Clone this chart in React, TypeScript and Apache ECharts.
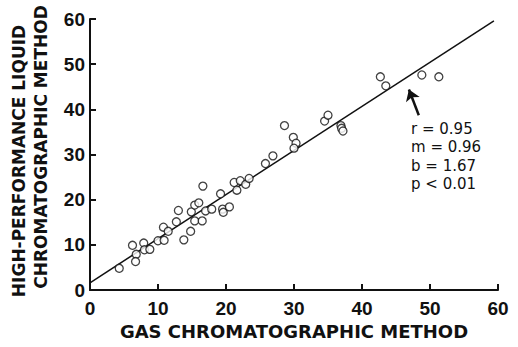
import React, { useEffect, useRef } from "react";
import * as echarts from "echarts";

const gasX = [4.3, 6.25, 6.8, 6.7, 7.9, 8.0, 8.8, 10.0, 10.9, 10.8, 11.5, 12.7, 13.0, 13.8, 14.8, 14.9, 15.4, 15.4, 16.0, 16.5, 16.6, 17.0, 17.9, 19.2, 19.5, 19.6, 20.5, 21.2, 21.6, 22.1, 22.9, 23.4, 25.8, 26.9, 28.6, 29.9, 30.3, 30.0, 34.5, 35.0, 36.9, 37.0, 37.2, 42.7, 43.5, 48.8, 51.3];
const hplcY = [4.8, 9.9, 7.9, 6.3, 10.4, 8.9, 9.0, 10.9, 11.0, 13.9, 13.0, 15.1, 17.6, 11.1, 13.0, 17.3, 15.3, 18.8, 19.3, 15.3, 23.0, 17.5, 17.9, 21.3, 17.9, 17.2, 18.4, 23.8, 22.1, 24.2, 23.4, 24.7, 28.0, 29.7, 36.4, 33.8, 32.5, 31.4, 37.4, 38.7, 36.4, 35.8, 35.2, 47.2, 45.2, 47.6, 47.2];
const fitLineX = [0, 59.4];
const fitLineY = [1.6, 59.6];
const arrowX = [48.35, 46.9];
const arrowY = [38.7, 44.4];
const statLines = ["r = 0.95", "m = 0.96", "b = 1.67", "p < 0.01"];
const xTitle = "GAS CHROMATOGRAPHIC METHOD";
const yTitle1 = "HIGH-PERFORMANCE LIQUID";
const yTitle2 = "CHROMATOGRAPHIC METHOD";

const FONT = "'Liberation Sans', Arial, Helvetica, sans-serif";
const WIDE = "'DejaVu Sans', Verdana, sans-serif";

export default function App() {
  const ref = useRef<HTMLDivElement>(null);
  useEffect(() => {
    if (!ref.current) return;
    const chart = echarts.init(ref.current, undefined, { renderer: "svg" });
    const axisCommon = {
      type: "value" as const,
      min: 0,
      max: 60,
      interval: 10,
      splitLine: { show: false },
      axisLine: { show: true, lineStyle: { color: "#111", width: 2 } },
      axisTick: { show: true, inside: true, length: 6, lineStyle: { color: "#111", width: 2 } },
      axisLabel: { color: "#111", fontFamily: FONT, fontSize: 19, fontWeight: "bold" as const },
    };
    const titleStyle = {
      fontFamily: WIDE,
      fontSize: 17,
      fontWeight: "bold",
      fill: "#111",
      align: "center",
      verticalAlign: "middle",
    };
    chart.setOption({
      animation: false,
      backgroundColor: "#fff",
      grid: { left: 90, top: 19, width: 408, height: 271, containLabel: false, outerBoundsMode: "none" },
      xAxis: {
        ...axisCommon,
        axisLabel: { ...axisCommon.axisLabel, margin: 9 },
        name: xTitle,
        nameLocation: "middle",
        nameGap: 32,
        nameTextStyle: { color: "#111", fontFamily: WIDE, fontSize: 18, fontWeight: "bold" },
      },
      yAxis: {
        ...axisCommon,
        axisLabel: { ...axisCommon.axisLabel, margin: 5 },
      },
      graphic: [
        {
          type: "text",
          x: 19,
          y: 161,
          rotation: Math.PI / 2,
          style: { text: yTitle1, ...titleStyle },
        },
        {
          type: "text",
          x: 41,
          y: 147,
          rotation: Math.PI / 2,
          style: { text: yTitle2, ...titleStyle },
        },
        ...statLines.map((t, i) => ({
          type: "text",
          x: 411,
          y: 129 + i * 18.3,
          style: {
            text: t,
            fontFamily: WIDE,
            fontSize: 15,
            fill: "#111",
            align: "left",
            verticalAlign: "middle",
          },
        })),
      ],
      series: [
        {
          type: "line",
          data: fitLineX.map((x, i) => [x, fitLineY[i]]),
          symbol: "none",
          lineStyle: { color: "#111", width: 1.5 },
          z: 2,
        },
        {
          type: "scatter",
          data: gasX.map((x, i) => [x, hplcY[i]]),
          symbol: "circle",
          symbolSize: 8,
          itemStyle: { color: "#fff", borderColor: "#111", borderWidth: 1.3 },
          z: 3,
        },
        {
          type: "lines",
          coordinateSystem: "cartesian2d",
          data: [{ coords: arrowX.map((x, i) => [x, arrowY[i]]) }],
          symbol: ["none", "arrow"],
          symbolSize: 11,
          lineStyle: { color: "#111", width: 2.5, opacity: 1 },
          z: 4,
        },
      ],
    });
    return () => chart.dispose();
  }, []);
  return (
    <div
      ref={ref}
      style={{ position: "fixed", left: 0, top: 0, width: 518, height: 347, background: "#fff" }}
    />
  );
}
